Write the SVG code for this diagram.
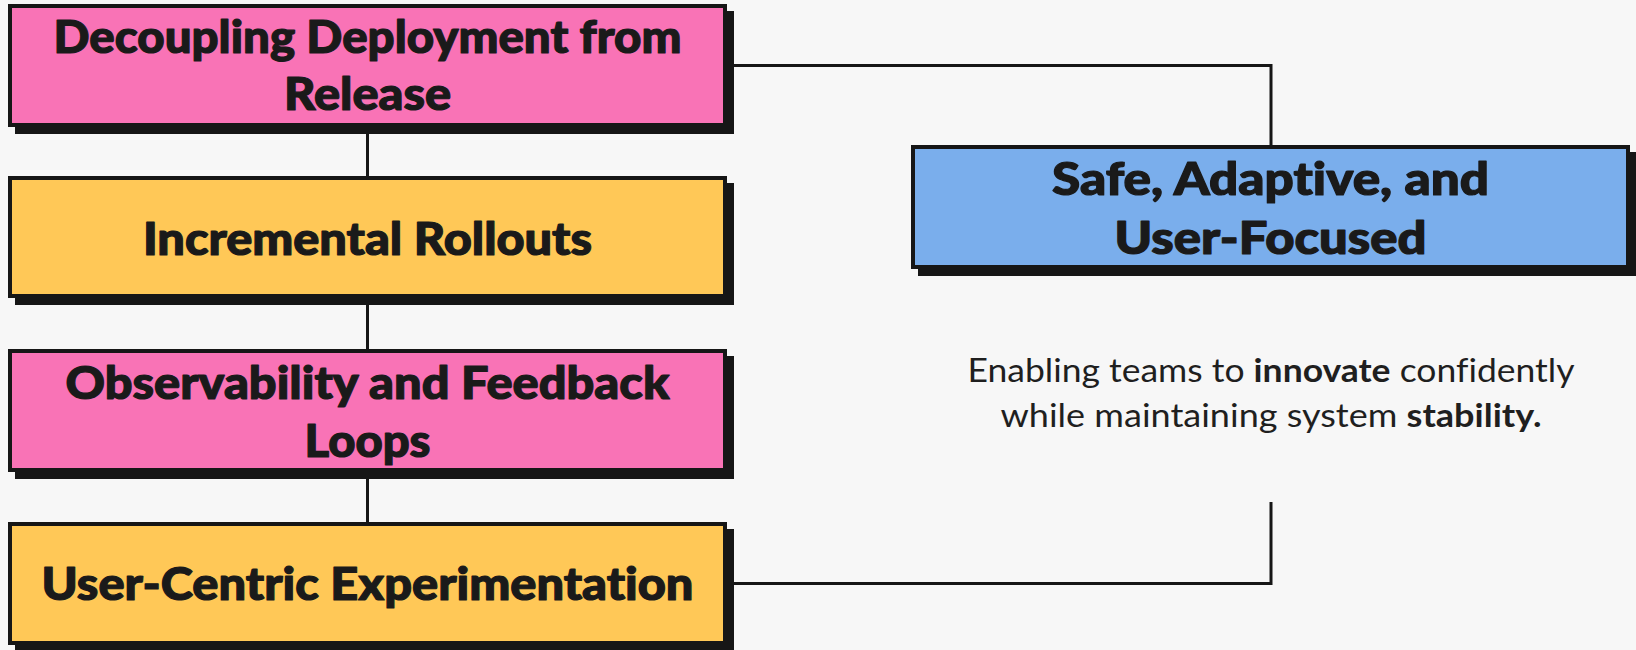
<svg xmlns="http://www.w3.org/2000/svg" width="1636" height="650" viewBox="0 0 1636 650">
<style>
.bg{fill:#f7f7f7}
.shadow{fill:#161616}
.box{stroke:#161616;stroke-width:4}
.pink{fill:#f973b6}
.yellow{fill:#ffc857}
.blue{fill:#7aaeec}
.title{font-family:Lato,"Noto Sans","DejaVu Sans",sans-serif;font-weight:900;font-size:45px;fill:#1a1a1a;stroke:#1a1a1a;stroke-width:1.2;stroke-linejoin:round;text-anchor:middle;font-variant-ligatures:none}
.desc{font-family:Lato,"Noto Sans","DejaVu Sans",sans-serif;font-weight:400;font-size:32px;fill:#1f1f1f;text-anchor:middle;font-variant-ligatures:none}
.desc .b{font-weight:700}
.conn{fill:none;stroke:#161616;stroke-width:3}
</style>
<rect class="bg" x="0" y="0" width="1636" height="650"/>
<g id="connectors">
<line class="conn" x1="367.5" y1="127" x2="367.5" y2="176"/>
<line class="conn" x1="367.5" y1="298" x2="367.5" y2="349"/>
<line class="conn" x1="367.5" y1="472" x2="367.5" y2="522"/>
<path class="conn" d="M727 65.5 H1271 V145"/>
<path class="conn" d="M727 583.5 H1271 V502"/>
</g>
<g id="node-decoupling">
<rect class="shadow" x="15" y="11" width="719" height="123"/>
<rect class="box pink" x="10" y="6" width="715" height="119"/>
<text class="title" x="367.5" y="53" textLength="628" lengthAdjust="spacingAndGlyphs">Decoupling Deployment from</text>
<text class="title" x="367.5" y="110" textLength="167" lengthAdjust="spacingAndGlyphs">Release</text>
</g>
<g id="node-incremental">
<rect class="shadow" x="15" y="183" width="719" height="122"/>
<rect class="box yellow" x="10" y="178" width="715" height="118"/>
<text class="title" x="367.5" y="255" textLength="449" lengthAdjust="spacingAndGlyphs">Incremental Rollouts</text>
</g>
<g id="node-observability">
<rect class="shadow" x="15" y="356" width="719" height="123"/>
<rect class="box pink" x="10" y="351" width="715" height="119"/>
<text class="title" x="367.5" y="399" textLength="604" lengthAdjust="spacingAndGlyphs">Observability and Feedback</text>
<text class="title" x="367.5" y="457" textLength="126" lengthAdjust="spacingAndGlyphs">Loops</text>
</g>
<g id="node-experimentation">
<rect class="shadow" x="15" y="529" width="719" height="123"/>
<rect class="box yellow" x="10" y="524" width="715" height="119"/>
<text class="title" x="367.5" y="600" textLength="652" lengthAdjust="spacingAndGlyphs">User-Centric Experimentation</text>
</g>
<g id="node-outcome">
<rect class="shadow" x="918" y="152" width="719" height="124"/>
<rect class="box blue" x="913" y="147" width="715" height="120"/>
<text class="title" x="1270.5" y="195" textLength="437" lengthAdjust="spacingAndGlyphs">Safe, Adaptive, and</text>
<text class="title" x="1270.5" y="254" textLength="312" lengthAdjust="spacingAndGlyphs">User-Focused</text>
</g>
<g id="node-description">
<text class="desc" x="1271" y="382" textLength="607" lengthAdjust="spacingAndGlyphs">Enabling teams to <tspan class="b">innovate</tspan> confidently</text>
<text class="desc" x="1271" y="427" textLength="541" lengthAdjust="spacingAndGlyphs">while maintaining system <tspan class="b">stability.</tspan></text>
</g>
</svg>
